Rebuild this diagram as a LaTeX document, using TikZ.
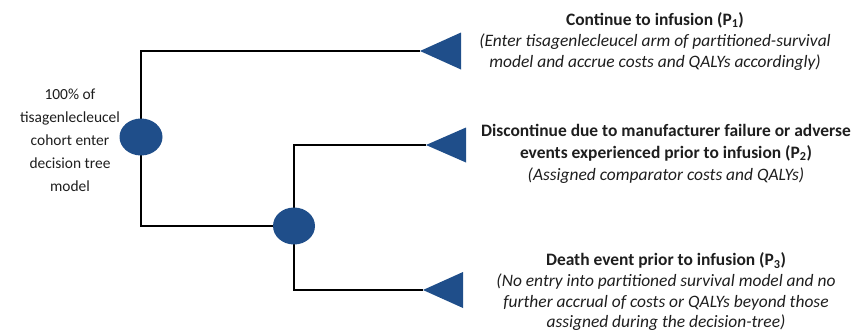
\documentclass[tikz,border=0pt]{standalone}
\usepackage{fontspec}
\setmainfont{Carlito}
\definecolor{nodeblue}{RGB}{31,78,138}
\definecolor{txt}{RGB}{30,30,30}
\begin{document}
\begin{tikzpicture}[x=1bp,y=-1bp,
  branch/.style={line width=2.4bp,black},
  chancenode/.style={fill=nodeblue,draw=none},
  terminal/.style={fill=nodeblue,draw=none},
  label/.style={text=txt,align=center,inner sep=0pt,font=\fontsize{17.5}{21.5}\selectfont},
  ]
\useasboundingbox (0,0) rectangle (859,334);
% coordinates
\coordinate (c1) at (141,137);
\coordinate (c2) at (294,226);
\coordinate (t1) at (420,51);
\coordinate (t2) at (426,145);
\coordinate (t3) at (423,290);
% branches
\draw[branch] (c1) |- (t1);
\draw[branch] (c1) |- (c2);
\draw[branch] (c2) |- (t2);
\draw[branch] (c2) |- (t3);
% chance nodes
\fill[chancenode] (c1) ellipse [x radius=21.5, y radius=18.5];
\fill[chancenode] (c2) ellipse [x radius=21, y radius=18.5];
% terminal triangles
\fill[terminal] (t1) -- ++(41,-18.5) -- ++(0,37) -- cycle;
\fill[terminal] (t2) -- ++(40,-17.5) -- ++(0,35) -- cycle;
\fill[terminal] (t3) -- ++(40,-18) -- ++(0,36) -- cycle;
% labels
\node[label,font=\fontsize{15.5}{23.2}\selectfont] (root) at (70,140) {100\% of\\tisagenlecleucel\\cohort enter\\decision tree\\model};
\node[label,anchor=north] (l1) at (655,12) {\textbf{Continue to infusion (P\textsubscript{1})}\\\textit{(Enter tisagenlecleucel arm of partitioned-survival}\\\textit{model and accrue costs and QALYs accordingly)}};
\node[label,anchor=north,font=\fontsize{17.5}{22}\selectfont] (l2) at (666,124) {\textbf{Discontinue due to manufacturer failure or adverse}\\\textbf{events experienced prior to infusion (P\textsubscript{2})}\\\textit{(Assigned comparator costs and QALYs)}};
\node[label,anchor=north,font=\fontsize{17.5}{20.8}\selectfont] (l3) at (666,252.5) {\textbf{Death event prior to infusion (P\textsubscript{3})}\\\textit{(No entry into partitioned survival model and no}\\\textit{further accrual of costs or QALYs beyond those}\\\textit{assigned during the decision-tree)}};
\end{tikzpicture}
\end{document}
